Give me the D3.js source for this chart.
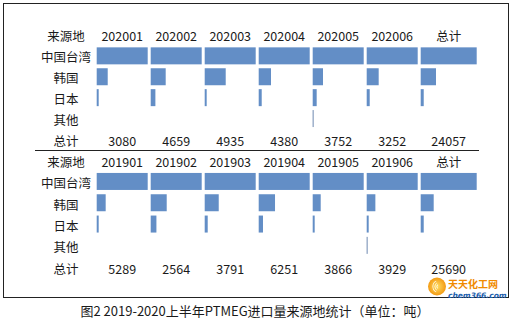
<!DOCTYPE html>
<html>
<head>
<meta charset="utf-8">
<script src="https://cdn.jsdelivr.net/npm/d3@7"></script>
<style>
  body { margin: 0; background: #fff; }
  svg text { font-family: "Noto Sans CJK SC", "Noto Sans", sans-serif; fill: #1a1a1a; }
</style>
</head>
<body>
<svg id="chart" width="513" height="323"></svg>
<script>
// Table-with-data-bars: bar length = share relative to 中国台湾 (=100) in each column
const rowLabels = ['中国台湾', '韩国', '日本', '其他'];
const cols2020 = ['202001', '202002', '202003', '202004', '202005', '202006', '总计'];
const cols2019 = ['201901', '201902', '201903', '201904', '201905', '201906', '总计'];

const taiwan2020 = [100, 100, 100, 100, 100, 100, 100];
const korea2020  = [21.6, 29.4, 41.2, 24.1, 20.2, 23.5, 27.3];
const japan2020  = [3.9, 9.2, 3.9, 5.9, 7.8, 5.9, 5.4];
const other2020  = [0, 0, 0, 0, 1.6, 0, 0];
const total2020  = [3080, 4659, 4935, 4380, 3752, 3252, 24057];

const taiwan2019 = [100, 100, 100, 100, 100, 100, 100];
const korea2019  = [17.6, 31.4, 27.5, 32.0, 15.7, 17.0, 23.2];
const japan2019  = [3.9, 11.2, 5.9, 8.4, 3.9, 3.9, 5.4];
const other2019  = [0, 0, 0, 0, 0, 1.6, 0];
const total2019  = [5289, 2564, 3791, 6251, 3866, 3929, 25690];

const BAR = '#638ec6';
const svg = d3.select('#chart');

// outer frame
svg.append('rect').attr('x', 3.5).attr('y', 3.5).attr('width', 505).attr('height', 294)
    .attr('fill', 'none').attr('stroke', '#222').attr('stroke-width', 1);

// columns: six months + total (total cell is a bit wider)
const STEP = 54;
const x = d3.scaleBand().domain(d3.range(7))
    .range([96.7, 96.7 + STEP * (7 - 3 / STEP)]).paddingInner(3 / STEP).paddingOuter(0);
const colW = i => i === 6 ? 56 : x.bandwidth();
const colX = i => x(i);

function drawBlock(cols, series, totals, y0, step, tdy) {
    const rows = ['head', ...rowLabels, 'total'];
    const y = d3.scaleBand().domain(rows).range([y0, y0 + step * rows.length]).padding(0);
    const cy = r => y(r) + y.bandwidth() / 2;
    const g = svg.append('g');

    // left label column
    g.selectAll('.lab').data(['来源地', ...rowLabels, '总计']).join('text')
        .attr('x', 66).attr('y', (d, i) => cy(rows[i]) + tdy)
        .attr('text-anchor', 'middle').attr('dominant-baseline', 'central')
        .style('font-size', '12.5px').text(d => d);

    // header
    g.selectAll('.hd').data(cols).join('text')
        .attr('x', (d, i) => colX(i) + colW(i) / 2).attr('y', cy('head') + tdy)
        .attr('text-anchor', 'middle').attr('dominant-baseline', 'central')
        .style('font-size', '12.5px').text(d => d);

    // bars
    series.forEach((vals, si) => {
        const r = rowLabels[si];
        g.selectAll('.b' + si).data(vals).join('rect')
            .attr('x', (d, i) => colX(i))
            .attr('y', cy(r) - 8.5)
            .attr('height', 17)
            .attr('width', (d, i) => d3.scaleLinear().domain([0, 100]).range([0, colW(i)])(d))
            .attr('fill', si === 3 ? '#4d6f9f' : BAR);
    });

    // totals
    g.selectAll('.tt').data(totals).join('text')
        .attr('x', (d, i) => colX(i) + colW(i) / 2).attr('y', cy('total') + tdy)
        .attr('text-anchor', 'middle').attr('dominant-baseline', 'central')
        .style('font-size', '12.5px').text(d => d);
}

drawBlock(cols2020, [taiwan2020, korea2020, japan2020, other2020], total2020, 24.5, 20.9, 1);
drawBlock(cols2019, [taiwan2019, korea2019, japan2019, other2019], total2019, 149.5, 21.3, 1.5);

// separator between the two tables
svg.append('line').attr('x1', 35).attr('x2', 479).attr('y1', 150.5).attr('y2', 150.5)
    .attr('stroke', '#222').attr('stroke-width', 1);

// watermark logo
const wm = svg.append('g').attr('transform', 'translate(428,277)');
const grad = svg.append('defs').append('radialGradient').attr('id', 'og');
grad.append('stop').attr('offset', '0%').attr('stop-color', '#ffe066');
grad.append('stop').attr('offset', '100%').attr('stop-color', '#f39a12');
wm.append('circle').attr('cx', 9).attr('cy', 9.5).attr('r', 9).attr('fill', 'url(#og)');
[6.5, 4.5, 2.5].forEach(r => wm.append('path')
    .attr('d', d3.arc()({ innerRadius: r - 0.7, outerRadius: r, startAngle: Math.PI * 0.15, endAngle: Math.PI * 0.85 }))
    .attr('transform', 'translate(11,9.5) rotate(180)').attr('fill', '#fff'));
wm.append('text').attr('x', 20).attr('y', 10.5).style('font-size', '10px').style('font-weight', 'bold')
    .style('fill', '#f08a00').text('天天化工网');
wm.append('text').attr('x', 20).attr('y', 20.5).style('font-size', '7.5px').style('font-weight', 'bold')
    .style('font-style', 'italic').style('font-family', 'DejaVu Sans, sans-serif')
    .style('fill', '#1d5fae').text('chem366.com');

// caption
svg.append('text').attr('x', 255).attr('y', 310).attr('text-anchor', 'middle')
    .attr('dominant-baseline', 'central').style('font-size', '13px')
    .text('图2 2019-2020上半年PTMEG进口量来源地统计（单位：吨）');
</script>
</body>
</html>
